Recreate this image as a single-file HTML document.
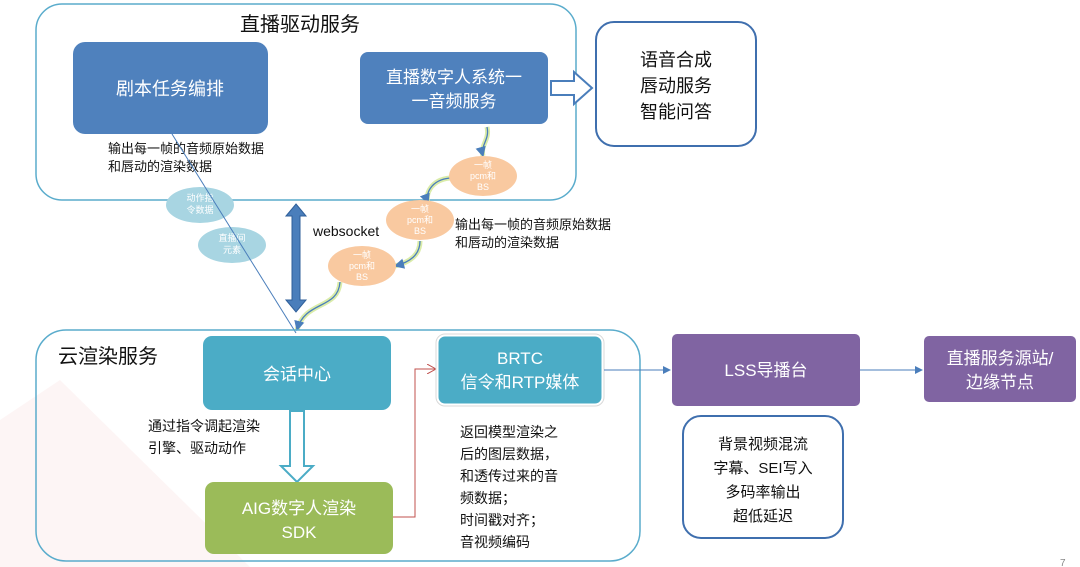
<!DOCTYPE html>
<html><head><meta charset="utf-8"><style>
html,body{margin:0;padding:0;background:#fff;}
svg{display:block;font-family:"Liberation Sans","Noto Sans CJK SC",sans-serif;}
</style></head><body>
<svg width="1080" height="567" viewBox="0 0 1080 567" xmlns="http://www.w3.org/2000/svg">
<defs>
<marker id="ab" markerWidth="8" markerHeight="8" refX="7" refY="4" orient="auto"><path d="M0,0 L8,4 L0,8 z" fill="#4a7ebb"/></marker>
<marker id="ar" markerWidth="10" markerHeight="10" refX="9" refY="5" orient="auto"><path d="M0,0 L9,5 L0,10" fill="none" stroke="#c0504d"/></marker>
</defs>
<!-- faint background decoration -->
<polygon points="0,420 0,567 250,567 60,380" fill="#fbeeee" opacity="0.6"/>
<!-- top container -->
<rect x="36" y="4" width="540" height="196" rx="26" fill="none" stroke="#5aaccc" stroke-width="1.5"/>
<text x="300" y="31" font-size="20" text-anchor="middle" fill="#111">直播驱动服务</text>
<rect x="73" y="42" width="195" height="92" rx="12" fill="#4f81bd"/>
<text x="170" y="95" font-size="18" fill="#fff" text-anchor="middle">剧本任务编排</text>
<rect x="360" y="52" width="188" height="72" rx="8" fill="#4f81bd"/>
<text x="454" y="83" font-size="17" fill="#fff" text-anchor="middle">直播数字人系统一</text>
<text x="454" y="107" font-size="17" fill="#fff" text-anchor="middle">一音频服务</text>
<path d="M551,81 L574,81 L574,72 L592,88 L574,104 L574,95 L551,95 z" fill="#fff" stroke="#4a7ebb" stroke-width="2"/>
<rect x="596" y="22" width="160" height="124" rx="18" fill="#fff" stroke="#3f6fae" stroke-width="2"/>
<text x="676" y="66" font-size="18" text-anchor="middle" fill="#111">语音合成</text>
<text x="676" y="92" font-size="18" text-anchor="middle" fill="#111">唇动服务</text>
<text x="676" y="118" font-size="18" text-anchor="middle" fill="#111">智能问答</text>
<text x="108" y="153" font-size="13" fill="#111">输出每一帧的音频原始数据</text>
<text x="108" y="171" font-size="13" fill="#111">和唇动的渲染数据</text>
<!-- light blue ellipses -->
<ellipse cx="200" cy="205" rx="34" ry="18" fill="#a8d5e2"/>
<text x="200" y="201" font-size="9" fill="#fff" text-anchor="middle">动作指</text>
<text x="200" y="213" font-size="9" fill="#fff" text-anchor="middle">令数据</text>
<ellipse cx="232" cy="245" rx="34" ry="18" fill="#a8d5e2"/>
<text x="232" y="241" font-size="9" fill="#fff" text-anchor="middle">直播间</text>
<text x="232" y="253" font-size="9" fill="#fff" text-anchor="middle">元素</text>
<line x1="172" y1="134" x2="296" y2="333" stroke="#4a7ebb" stroke-width="1"/>
<!-- double arrow -->
<path d="M296,204 L306,216 L300,216 L300,300 L306,300 L296,312 L286,300 L292,300 L292,216 L286,216 z" fill="#4a7ebb" stroke="#2f5f9a"/>
<text x="313" y="236" font-size="14" fill="#111">websocket</text>
<!-- curvy arrows -->
<g fill="none" stroke="#d6eaa0" stroke-width="5" opacity="0.9">
<path d="M487,127 C490,140 480,145 483,156"/>
<path d="M450,178 C430,180 425,195 428,203"/>
<path d="M420,241 C420,255 410,262 395,266"/>
<path d="M340,282 C338,310 305,300 297,330"/>
</g>
<g fill="none" stroke="#4a7ebb" stroke-width="1.3">
<path d="M487,127 C490,140 480,145 483,156" marker-end="url(#ab)"/>
<path d="M450,178 C430,180 425,195 428,203" marker-end="url(#ab)"/>
<path d="M420,241 C420,255 410,262 395,266" marker-end="url(#ab)"/>
<path d="M340,282 C338,310 305,300 297,330" marker-end="url(#ab)"/>
</g>
<g font-size="9" fill="#fff" text-anchor="middle">
<ellipse cx="483" cy="176" rx="34" ry="20" fill="#f9c9a0"/>
<text x="483" y="168">一帧</text><text x="483" y="179">pcm和</text><text x="483" y="190">BS</text>
<ellipse cx="420" cy="220" rx="34" ry="20" fill="#f9c9a0"/>
<text x="420" y="212">一帧</text><text x="420" y="223">pcm和</text><text x="420" y="234">BS</text>
<ellipse cx="362" cy="266" rx="34" ry="20" fill="#f9c9a0"/>
<text x="362" y="258">一帧</text><text x="362" y="269">pcm和</text><text x="362" y="280">BS</text>
</g>
<text x="455" y="229" font-size="13" fill="#111">输出每一帧的音频原始数据</text>
<text x="455" y="247" font-size="13" fill="#111">和唇动的渲染数据</text>
<!-- bottom container -->
<rect x="36" y="330" width="604" height="231" rx="30" fill="none" stroke="#5aaccc" stroke-width="1.5"/>
<text x="58" y="363" font-size="20" fill="#111">云渲染服务</text>
<rect x="203" y="336" width="188" height="74" rx="9" fill="#4bacc6"/>
<text x="297" y="380" font-size="17" fill="#fff" text-anchor="middle">会话中心</text>
<path d="M290,411 L304,411 L304,466 L313,466 L297,482 L281,466 L290,466 z" fill="#fff" stroke="#4bacc6" stroke-width="2"/>
<text x="148" y="431" font-size="14" fill="#111">通过指令调起渲染</text>
<text x="148" y="453" font-size="14" fill="#111">引擎、驱动动作</text>
<rect x="205" y="482" width="188" height="72" rx="9" fill="#9bbb59"/>
<text x="299" y="514" font-size="17" fill="#fff" text-anchor="middle">AIG数字人渲染</text>
<text x="299" y="538" font-size="17" fill="#fff" text-anchor="middle">SDK</text>
<polyline points="393,517 415,517 415,369 436,369" fill="none" stroke="#c0504d" stroke-width="1" marker-end="url(#ar)"/>
<rect x="437" y="335" width="166" height="70" rx="8" fill="#4bacc6" stroke="#fff" stroke-width="3"/>
<rect x="436" y="334" width="168" height="72" rx="9" fill="none" stroke="#d9d9d9" stroke-width="1"/>
<text x="520" y="364" font-size="17" fill="#fff" text-anchor="middle">BRTC</text>
<text x="520" y="388" font-size="17" fill="#fff" text-anchor="middle">信令和RTP媒体</text>
<g font-size="14" fill="#111">
<text x="460" y="437">返回模型渲染之</text>
<text x="460" y="459">后的图层数据，</text>
<text x="460" y="481">和透传过来的音</text>
<text x="460" y="503">频数据；</text>
<text x="460" y="525">时间戳对齐；</text>
<text x="460" y="547">音视频编码</text>
</g>
<line x1="604" y1="370" x2="670" y2="370" stroke="#4a7ebb" stroke-width="1" marker-end="url(#ab)"/>
<rect x="672" y="334" width="188" height="72" rx="5" fill="#8064a2"/>
<text x="766" y="376" font-size="17" fill="#fff" text-anchor="middle">LSS导播台</text>
<line x1="860" y1="370" x2="922" y2="370" stroke="#4a7ebb" stroke-width="1" marker-end="url(#ab)"/>
<rect x="924" y="336" width="152" height="66" rx="5" fill="#8064a2"/>
<text x="1000" y="364" font-size="17" fill="#fff" text-anchor="middle">直播服务源站/</text>
<text x="1000" y="388" font-size="17" fill="#fff" text-anchor="middle">边缘节点</text>
<rect x="683" y="416" width="160" height="122" rx="18" fill="#fff" stroke="#3f6fae" stroke-width="2"/>
<g font-size="15" fill="#111" text-anchor="middle">
<text x="763" y="449">背景视频混流</text>
<text x="763" y="473">字幕、SEI写入</text>
<text x="763" y="497">多码率输出</text>
<text x="763" y="521">超低延迟</text>
</g>
<text x="1060" y="566" font-size="10" fill="#888">7</text>
</svg>
</body></html>
